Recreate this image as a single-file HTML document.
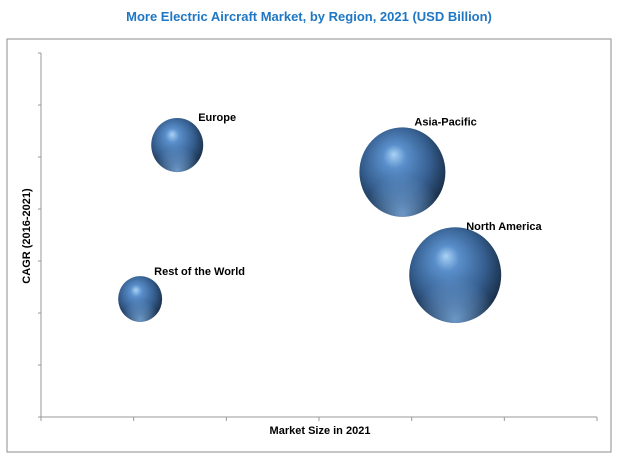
<!DOCTYPE html>
<html><head><meta charset="utf-8"><style>
body{margin:0;background:#fff;width:618px;height:461px;overflow:hidden;font-family:"Liberation Sans",Arial,sans-serif}
</style></head><body>
<svg id="chart" width="618" height="461" xmlns="http://www.w3.org/2000/svg">
<defs>
<radialGradient id="ball" cx="0.45" cy="0.42" r="0.6" fx="0.4" fy="0.3">
<stop offset="0" stop-color="#a9d2f5"/>
<stop offset="0.22" stop-color="#5a8fcb"/>
<stop offset="0.65" stop-color="#365f90"/>
<stop offset="1" stop-color="#172c45"/>
</radialGradient>
<radialGradient id="rim" cx="0.5" cy="0.97" r="0.45">
<stop offset="0" stop-color="#7aa9dc" stop-opacity="0.85"/>
<stop offset="1" stop-color="#7aa9dc" stop-opacity="0"/>
</radialGradient>
</defs>
<text x="309" y="21" text-anchor="middle" font-size="13" font-weight="bold" fill="#1f77c4">More Electric Aircraft Market, by Region, 2021 (USD Billion)</text>
<rect x="7" y="39" width="604" height="413" fill="none" stroke="#8c8c8c" stroke-width="1"/>
<g id="axes"></g>
<g id="bubbles"></g>
<text x="320" y="434" text-anchor="middle" font-size="11" font-weight="bold">Market Size in 2021</text>
<text transform="translate(30,236) rotate(-90)" text-anchor="middle" font-size="11" font-weight="bold">CAGR (2016-2021)</text>
</svg>
<script>
const regions=["Europe","Asia-Pacific","North America","Rest of the World"];
const marketSize=[1.47,3.9,4.47,1.07];
const cagr=[5.23,4.71,2.73,2.27];
const bubbleSize=[26,43,46,22];
const xTicks=[0,1,2,3,4,5,6];
const yTicks=[0,1,2,3,4,5,6,7];
const labelDx=[21,12,11,14];
const labelDy=[2,-3,2,-2];
const X0=41,X1=597,Y0=417,Y1=53;
const xs=v=>X0+v/6*(X1-X0);
const ys=v=>Y0-v/7*(Y0-Y1);
const NS="http://www.w3.org/2000/svg";
function mk(t,a,p){const e=document.createElementNS(NS,t);for(const k in a)e.setAttribute(k,a[k]);p.appendChild(e);return e;}
const ax=document.getElementById('axes');
let l=mk('line',{x1:X0,y1:Y1,x2:X0,y2:Y0,stroke:'#999'},ax);


l=mk('line',{x1:X0,y1:Y0,x2:X1,y2:Y0,stroke:'#999'},ax);


xTicks.forEach(v=>{const t=mk('line',{x1:xs(v),y1:Y0,x2:xs(v),y2:Y0+4,stroke:'#999'},ax);

});
yTicks.forEach(v=>{const t=mk('line',{x1:X0-3,y1:ys(v),x2:X0,y2:ys(v),stroke:'#999'},ax);

});
const bg=document.getElementById('bubbles');
regions.forEach((r,i)=>{
 const cx=xs(marketSize[i]),cy=ys(cagr[i]),rad=bubbleSize[i];
 const g=mk('g',{},bg);
 
 
 mk('ellipse',{cx:cx,cy:cy,rx:rad,ry:rad*1.04,fill:'url(#ball)'},g);
 mk('ellipse',{cx:cx,cy:cy,rx:rad,ry:rad*1.04,fill:'url(#rim)'},g);
 const t=mk('text',{x:cx+labelDx[i],y:cy-rad*1.04+1+labelDy[i],'font-size':11,'font-weight':'bold'},bg);
 t.textContent=r;
 
 
});
</script>
</body></html>
